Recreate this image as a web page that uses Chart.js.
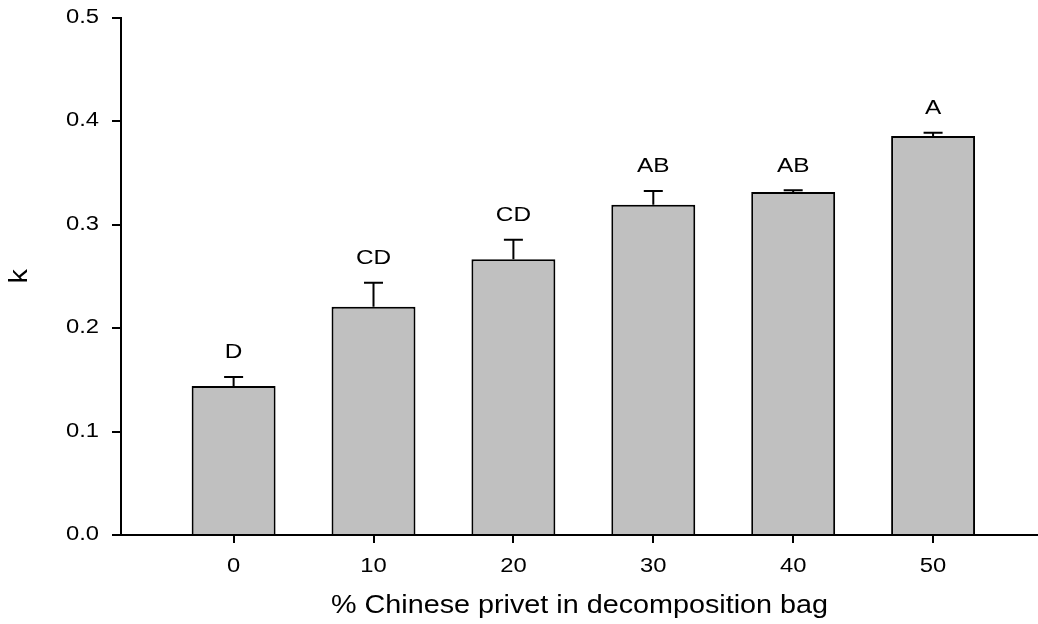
<!DOCTYPE html>
<html>
<head>
<meta charset="utf-8">
<title>Decomposition rate k by Chinese privet share</title>
<script src="https://cdn.jsdelivr.net/npm/chart.js@4.4.1/dist/chart.umd.min.js"></script>
<style>
  html, body { margin: 0; padding: 0; background: #fff; }
  #wrap { width: 1038px; height: 624px; position: relative; }
</style>
</head>
<body>
<div id="wrap"><canvas id="chart"></canvas></div>
<script>
// % Chinese privet in the decomposition bag
const categories = ['0', '10', '20', '30', '40', '50'];
const privetPct = [0, 10, 20, 30, 40, 50];
// decomposition constant k (mean) and its standard error
const kMean = [0.144, 0.2205, 0.2665, 0.319, 0.3315, 0.3855];
const kErr = [0.0087, 0.0233, 0.0188, 0.0134, 0.0015, 0.0032];
// mean-separation letters
const groupLetters = ['D', 'CD', 'CD', 'AB', 'AB', 'A'];
const yTicks = [0, 0.1, 0.2, 0.3, 0.4, 0.5];

const FONT = '"Liberation Sans", Arial, Helvetica, sans-serif';

// Widen every label horizontally around its anchor point
const wideText = {
  id: 'wideText',
  beforeInit(chart) {
    const ctx = chart.ctx;
    const base = ctx.fillText;
    ctx.fillText = function (text, x, y) {
      const m = /(\d+(?:\.\d+)?)px/.exec(this.font);
      const size = m ? parseFloat(m[1]) : 12;
      const sx = size >= 24 ? 1.15 : 1.22;
      this.save();
      this.translate(x, y);
      this.scale(sx, 1);
      base.call(this, text, 0, 0);
      this.restore();
    };
  }
};

// Standard-error whiskers (upper side) and group letters
const whiskers = {
  id: 'whiskers',
  afterDatasetsDraw(chart) {
    const { ctx, scales: { x, y } } = chart;
    ctx.save();
    ctx.strokeStyle = '#000';
    ctx.lineWidth = 2;
    ctx.fillStyle = '#000';
    ctx.font = '20px ' + FONT;
    ctx.textAlign = 'center';
    ctx.textBaseline = 'middle';
    privetPct.forEach((p, i) => {
      const px = x.getPixelForValue(p);
      const yTop = y.getPixelForValue(kMean[i]);
      const yErr = y.getPixelForValue(kMean[i] + kErr[i]);
      ctx.beginPath();
      ctx.moveTo(px, yTop);
      ctx.lineTo(px, yErr);
      ctx.moveTo(px - 9.5, yErr);
      ctx.lineTo(px + 9.5, yErr);
      ctx.stroke();
      ctx.fillText(groupLetters[i], px, yErr - 24);
    });
    ctx.restore();
  }
};

new Chart(document.getElementById('chart'), {
  type: 'bar',
  data: {
    datasets: [{
      data: privetPct.map((p, i) => ({ x: p, y: kMean[i] })),
      backgroundColor: '#c0c0c0',
      borderColor: '#000',
      borderWidth: 2,
      borderSkipped: 'start',
      barPercentage: 0.6,
      categoryPercentage: 1.0
    }]
  },
  options: {
    responsive: true,
    maintainAspectRatio: false,
    animation: false,
    layout: { padding: { top: 17.5, left: 0, right: 0, bottom: 0 } },
    plugins: { legend: { display: false }, tooltip: { enabled: false } },
    scales: {
      x: {
        type: 'linear',
        offset: false,
        min: -8.05,
        max: 57.5,
        afterBuildTicks(scale) { scale.ticks = privetPct.map(v => ({ value: v })); },
        afterFit(scale) { scale.height = 89; scale.paddingLeft = 0; scale.paddingRight = 0; },
        ticks: {
          callback: (v) => categories[privetPct.indexOf(v)],
          color: '#000',
          font: { family: FONT, size: 19.5 },
          padding: 12,
          maxRotation: 0,
          autoSkip: false
        },
        grid: { display: true, offset: false, drawOnChartArea: false, drawTicks: true, tickLength: 8, color: '#000', lineWidth: 2 },
        border: { display: true, color: '#000', width: 2 },
        title: {
          display: true,
          text: '% Chinese privet in decomposition bag',
          color: '#000',
          font: { family: FONT, size: 25 },
          padding: { top: 0, bottom: 3 }
        }
      },
      y: {
        min: 0,
        max: 0.5,
        afterBuildTicks(scale) { scale.ticks = yTicks.map(v => ({ value: v })); },
        afterFit(scale) { scale.width = 121; scale.paddingTop = 0; scale.paddingBottom = 0; },
        ticks: {
          callback: (v) => v.toFixed(1),
          color: '#000',
          font: { family: FONT, size: 19.5 },
          padding: 13
        },
        grid: { display: true, drawOnChartArea: false, drawTicks: true, tickLength: 9, color: '#000', lineWidth: 2 },
        border: { display: true, color: '#000', width: 2 },
        title: {
          display: true,
          text: 'k',
          color: '#000',
          font: { family: FONT, size: 25 },
          padding: { top: 5, bottom: 0 }
        }
      }
    }
  },
  plugins: [wideText, whiskers]
});
</script>
</body>
</html>
